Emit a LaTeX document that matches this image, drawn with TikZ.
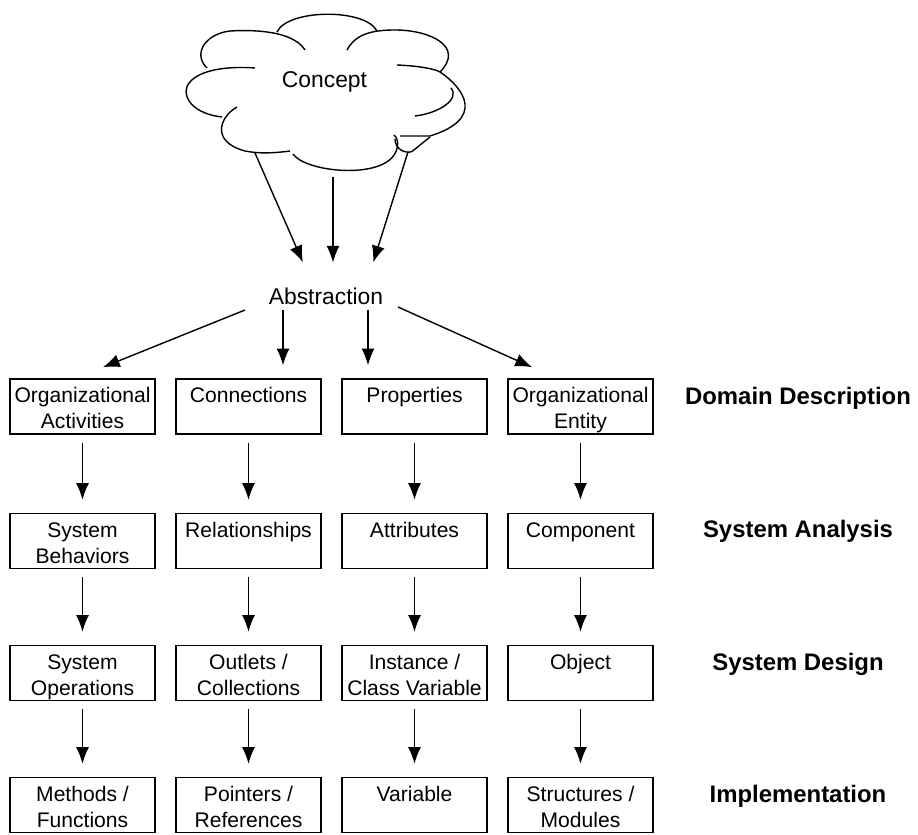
\documentclass[tikz,border=0pt]{standalone}
\usepackage{fontspec}
\setmainfont{Liberation Sans}
\usetikzlibrary{arrows.meta}

\tikzset{
  stage/.style={draw, line width=0.9pt, inner sep=0pt},
  level/.style={font=\fontsize{13.6}{16}\selectfont\bfseries, anchor=base},
  arr/.style={-{Latex[length=9.5pt,width=7.5pt]}, line width=0.8pt},
  flow/.style={arr, shorten <=0.16cm, shorten >=0.26cm},
}
\newcommand{\stagetext}[1]{\parbox[c][1.1cm][t]{2.9cm}{\centering\rule{0pt}{13.6pt}#1}}

\begin{document}
\begin{tikzpicture}[font=\fontsize{12}{14.7}\selectfont]

\useasboundingbox (0,0) rectangle (18.36,16.68);

% Cloud
\begin{scope}[line width=0.8pt]
\draw (5.54,16.04) .. controls (5.75,16.5) and (7.3,16.52) .. (7.54,16.06);
\draw (6.10,15.68) .. controls (5.9,16.0) and (5.3,16.1) .. (4.6,16.06)
      .. controls (4.1,16.0) and (3.85,15.6) .. (4.14,15.32);
\draw (5.10,15.32) .. controls (4.6,15.36) and (3.9,15.3) .. (3.74,14.95)
      .. controls (3.65,14.7) and (3.9,14.4) .. (4.44,14.34);
\draw (4.74,14.54) .. controls (4.4,14.35) and (4.2,13.85) .. (4.9,13.66)
      .. controls (5.2,13.6) and (5.5,13.62) .. (5.80,13.66);
\draw (5.86,13.60) .. controls (6.1,13.25) and (7.5,13.1) .. (7.86,13.55)
      .. controls (7.98,13.7) and (7.98,13.9) .. (7.88,13.98);
\draw (7.90,13.90) .. controls (7.9,13.7) and (8.1,13.6) .. (8.24,13.65) -- (8.60,13.94);
\draw (6.94,15.68) .. controls (7.1,15.98) and (7.4,16.08) .. (7.9,16.08)
      .. controls (8.6,16.08) and (9.3,15.75) .. (8.80,15.24);
\draw (7.94,15.38) .. controls (8.4,15.36) and (8.7,15.3) .. (8.80,15.24)
      .. controls (9.3,14.9) and (9.7,14.3) .. (8.60,13.96) -- (8.00,13.96);
\draw (8.30,14.36) .. controls (8.8,14.42) and (9.2,14.7) .. (9.02,14.92);
\end{scope}

\node[font=\fontsize{13}{15}\selectfont] (concept) at (6.49,15.04) {Concept};

% Cloud bottom points
\coordinate (c1) at (5.10,13.62);
\coordinate (c2) at (6.66,13.14);
\coordinate (c3) at (8.16,13.64);

% Abstraction
\node[font=\fontsize{13}{15}\selectfont, inner sep=3pt] (abs) at (6.52,10.76) {Abstraction};

\draw[arr, shorten >=0.43cm] (c1) -- ([xshift=-0.29cm]abs.north);
\draw[arr, shorten >=0.39cm] (c2) -- (c2 |- abs.north);
\draw[arr, shorten >=0.41cm] (c3) -- ([xshift=0.82cm]abs.north);

% Domain description
\node[stage] (orgact) at (1.65,8.55) {\stagetext{Organizational\\Activities}};
\node[stage] (conn) at (4.97,8.55) {\stagetext{Connections}};
\node[stage] (props) at (8.29,8.55) {\stagetext{Properties}};
\node[stage] (orgent) at (11.61,8.55) {\stagetext{Organizational\\Entity}};

% System analysis
\node[stage] (sysbeh) at (1.65,5.86) {\stagetext{System\\Behaviors}};
\node[stage] (rel) at (4.97,5.86) {\stagetext{Relationships}};
\node[stage] (attr) at (8.29,5.86) {\stagetext{Attributes}};
\node[stage] (comp) at (11.61,5.86) {\stagetext{Component}};

% System design
\node[stage] (sysop) at (1.65,3.22) {\stagetext{System\\Operations}};
\node[stage] (outlets) at (4.97,3.22) {\stagetext{Outlets /\\Collections}};
\node[stage] (instvar) at (8.29,3.22) {\stagetext{Instance /\\Class Variable}};
\node[stage] (obj) at (11.61,3.22) {\stagetext{Object}};

% Implementation
\node[stage] (methods) at (1.65,0.58) {\stagetext{Methods /\\Functions}};
\node[stage] (pointers) at (4.97,0.58) {\stagetext{Pointers /\\References}};
\node[stage] (var) at (8.29,0.58) {\stagetext{Variable}};
\node[stage] (structs) at (11.61,0.58) {\stagetext{Structures /\\Modules}};

% Level labels
\node[level] (ldomain) at (15.96,8.58) {Domain Description};
\node[level] (lanalysis) at (15.96,5.92) {System Analysis};
\node[level] (ldesign) at (15.96,3.28) {System Design};
\node[level] (limpl) at (15.96,0.64) {Implementation};

% Abstraction to domain description
\draw[arr] ([xshift=-1.62cm]abs.south) -- ([xshift=0.41cm,yshift=0.22cm]orgact.north);
\draw[arr, shorten >=0.26cm] ([xshift=-0.86cm]abs.south) -- ([xshift=-0.86cm]abs.south |- conn.north);
\draw[arr, shorten >=0.26cm] ([xshift=0.84cm]abs.south) -- ([xshift=0.84cm]abs.south |- props.north);
\draw[arr] ([xshift=1.44cm,yshift=0.06cm]abs.south) -- ([xshift=-0.97cm,yshift=0.22cm]orgent.north);

% Down the columns
\draw[flow] (orgact) -- (sysbeh);
\draw[flow] (conn) -- (rel);
\draw[flow] (props) -- (attr);
\draw[flow] (orgent) -- (comp);

\draw[flow] (sysbeh) -- (sysop);
\draw[flow] (rel) -- (outlets);
\draw[flow] (attr) -- (instvar);
\draw[flow] (comp) -- (obj);

\draw[flow] (sysop) -- (methods);
\draw[flow] (outlets) -- (pointers);
\draw[flow] (instvar) -- (var);
\draw[flow] (obj) -- (structs);

\end{tikzpicture}
\end{document}
